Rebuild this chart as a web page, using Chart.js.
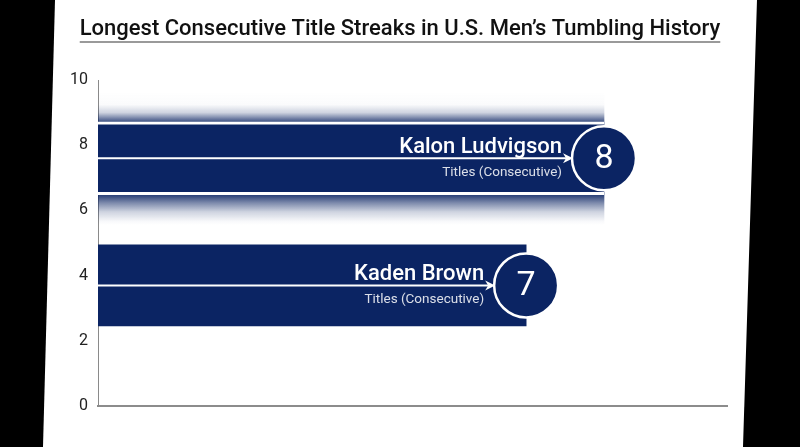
<!DOCTYPE html>
<html><head><meta charset="utf-8">
<script src="https://cdn.jsdelivr.net/npm/chart.js@4.4.1/dist/chart.umd.min.js"></script>
<style>
html,body{margin:0;padding:0;background:#000;width:800px;height:447px;overflow:hidden}
#paper{position:absolute;left:0;top:0;width:800px;height:447px;background:#fff;clip-path:polygon(55px 0,757px 0,743px 447px,43px 447px)}
#wrap{position:absolute;left:0;top:0;width:800px;height:447px}
</style></head><body>
<div id="paper"></div>
<div id="wrap"><canvas id="c"></canvas></div>
<script>
// ---- data ----
const chartTitle = 'Longest Consecutive Title Streaks in U.S. Men\u2019s Tumbling History';
const athletes = ['Kalon Ludvigson', 'Kaden Brown'];
const titles = [8, 7];
const rowPositions = [7.6, 3.7];
const subLabels = ['Titles (Consecutive)', 'Titles (Consecutive)'];
const yTicks = [0, 2, 4, 6, 8, 10];
const xRange = [1.5, 9.58];

// ---- style ----
const NAVY = '#0b2463';
const BAR_THICK = [73, 81];
const SHADOW_THICK = 134;
const FONT = 'Roboto';

function shadowFill(context) {
  const chart = context.chart;
  if (!chart.chartArea || !chart.scales.y) return 'rgba(11,36,99,0.3)';
  const yc = chart.scales.y.getPixelForValue(rowPositions[0]);
  const top = yc - SHADOW_THICK / 2;
  const g = chart.ctx.createLinearGradient(0, top, 0, top + SHADOW_THICK);
  const c = a => 'rgba(11,36,99,' + a + ')';
  g.addColorStop(0, c(0));
  g.addColorStop(0.10, c(0.02));
  g.addColorStop(0.16, c(0.2));
  g.addColorStop(0.20, c(0.55));
  g.addColorStop(0.235, c(0.85));
  g.addColorStop(0.5, c(0.95));
  g.addColorStop(0.77, c(0.9));
  g.addColorStop(0.83, c(0.55));
  g.addColorStop(0.90, c(0.2));
  g.addColorStop(0.97, c(0.03));
  g.addColorStop(1, c(0));
  return g;
}

const datasets = [{
  label: 'shadow',
  data: [{x: titles[0], y: rowPositions[0]}],
  backgroundColor: shadowFill,
  barThickness: SHADOW_THICK,
  grouped: false,
  order: 3
}].concat(athletes.map((name, i) => ({
  label: name,
  data: [{x: titles[i], y: rowPositions[i]}],
  backgroundColor: NAVY,
  borderColor: '#ffffff',
  borderWidth: i === 0 ? {top: 3, bottom: 3, left: 0, right: 0} : 0,
  borderSkipped: false,
  barThickness: BAR_THICK[i],
  grouped: false,
  order: 1
})));

const decor = {
  id: 'decor',
  afterDatasetsDraw(chart) {
    const ctx = chart.ctx;
    const left = chart.chartArea.left;
    athletes.forEach((name, i) => {
      const el = chart.getDatasetMeta(i + 1).data[0];
      const cx = el.x, cy = el.y, r = 32;
      const tipX = cx - r;
      ctx.save();
      ctx.strokeStyle = '#fff';
      ctx.lineWidth = 2;
      ctx.beginPath(); ctx.moveTo(left, cy); ctx.lineTo(tipX - 6, cy); ctx.stroke();
      ctx.fillStyle = '#fff';
      ctx.beginPath();
      ctx.moveTo(tipX + 1, cy);
      ctx.lineTo(tipX - 9, cy - 5);
      ctx.lineTo(tipX - 6, cy);
      ctx.lineTo(tipX - 9, cy + 5);
      ctx.closePath(); ctx.fill();
      ctx.beginPath(); ctx.arc(cx, cy, r, 0, Math.PI * 2);
      ctx.fillStyle = NAVY; ctx.fill();
      ctx.lineWidth = 2.5; ctx.strokeStyle = '#fff'; ctx.stroke();
      ctx.fillStyle = '#fff';
      ctx.font = '400 34px ' + FONT;
      ctx.textAlign = 'center'; ctx.textBaseline = 'middle';
      ctx.fillText(String(titles[i]), cx, cy + 1);
      ctx.textAlign = 'right'; ctx.textBaseline = 'alphabetic';
      ctx.font = '500 22px ' + FONT;
      ctx.fillText(name, tipX - 10, cy - 5);
      ctx.font = '400 13.5px ' + FONT;
      ctx.fillStyle = 'rgba(255,255,255,0.85)';
      ctx.fillText(subLabels[i], tipX - 10, cy + 18);
      ctx.restore();
    });
  },
  afterDraw(chart) {
    const ctx = chart.ctx;
    const tb = chart.titleBlock;
    ctx.save();
    ctx.font = '500 22px ' + FONT;
    const w = ctx.measureText(chartTitle).width;
    const mid = (tb.left + tb.right) / 2;
    const y = tb.top + 16 + 13.2 + 12.8;
    ctx.strokeStyle = '#9a9a9a';
    ctx.lineWidth = 2;
    ctx.beginPath();
    ctx.moveTo(mid - w / 2, y);
    ctx.lineTo(mid + w / 2, y);
    ctx.stroke();
    ctx.restore();
  }
};

Chart.defaults.font.family = FONT;
new Chart(document.getElementById('c'), {
  type: 'bar',
  data: {datasets},
  options: {
    indexAxis: 'y',
    responsive: true,
    maintainAspectRatio: false,
    animation: false,
    layout: {padding: {left: 0, right: 0, top: 0, bottom: 41}},
    plugins: {
      legend: {display: false},
      tooltip: {enabled: false},
      title: {
        display: true,
        text: chartTitle,
        color: '#111',
        font: {family: FONT, size: 22, weight: '500'},
        padding: {top: 16, bottom: 37.6}
      }
    },
    scales: {
      x: {
        type: 'linear',
        min: xRange[0], max: xRange[1],
        ticks: {display: false},
        grid: {display: false, drawTicks: false},
        border: {display: true, color: '#8c8c8c', width: 2},
        afterFit: s => { s.height = 0; }
      },
      y: {
        type: 'linear',
        offset: false,
        min: 0, max: 10,
        afterBuildTicks: s => { s.ticks = yTicks.map(v => ({value: v})); },
        ticks: {color: '#222', font: {size: 16}, padding: 10},
        grid: {display: false, drawTicks: false, offset: false},
        border: {display: true, color: '#8a8a8a', width: 1},
        afterFit: s => { s.width = 98; }
      },
      yRight: {
        type: 'linear',
        position: 'right',
        display: true,
        ticks: {display: false},
        grid: {display: false, drawTicks: false},
        border: {display: false},
        afterFit: s => { s.width = 73; }
      }
    }
  },
  plugins: [decor]
});
</script>
</body></html>
